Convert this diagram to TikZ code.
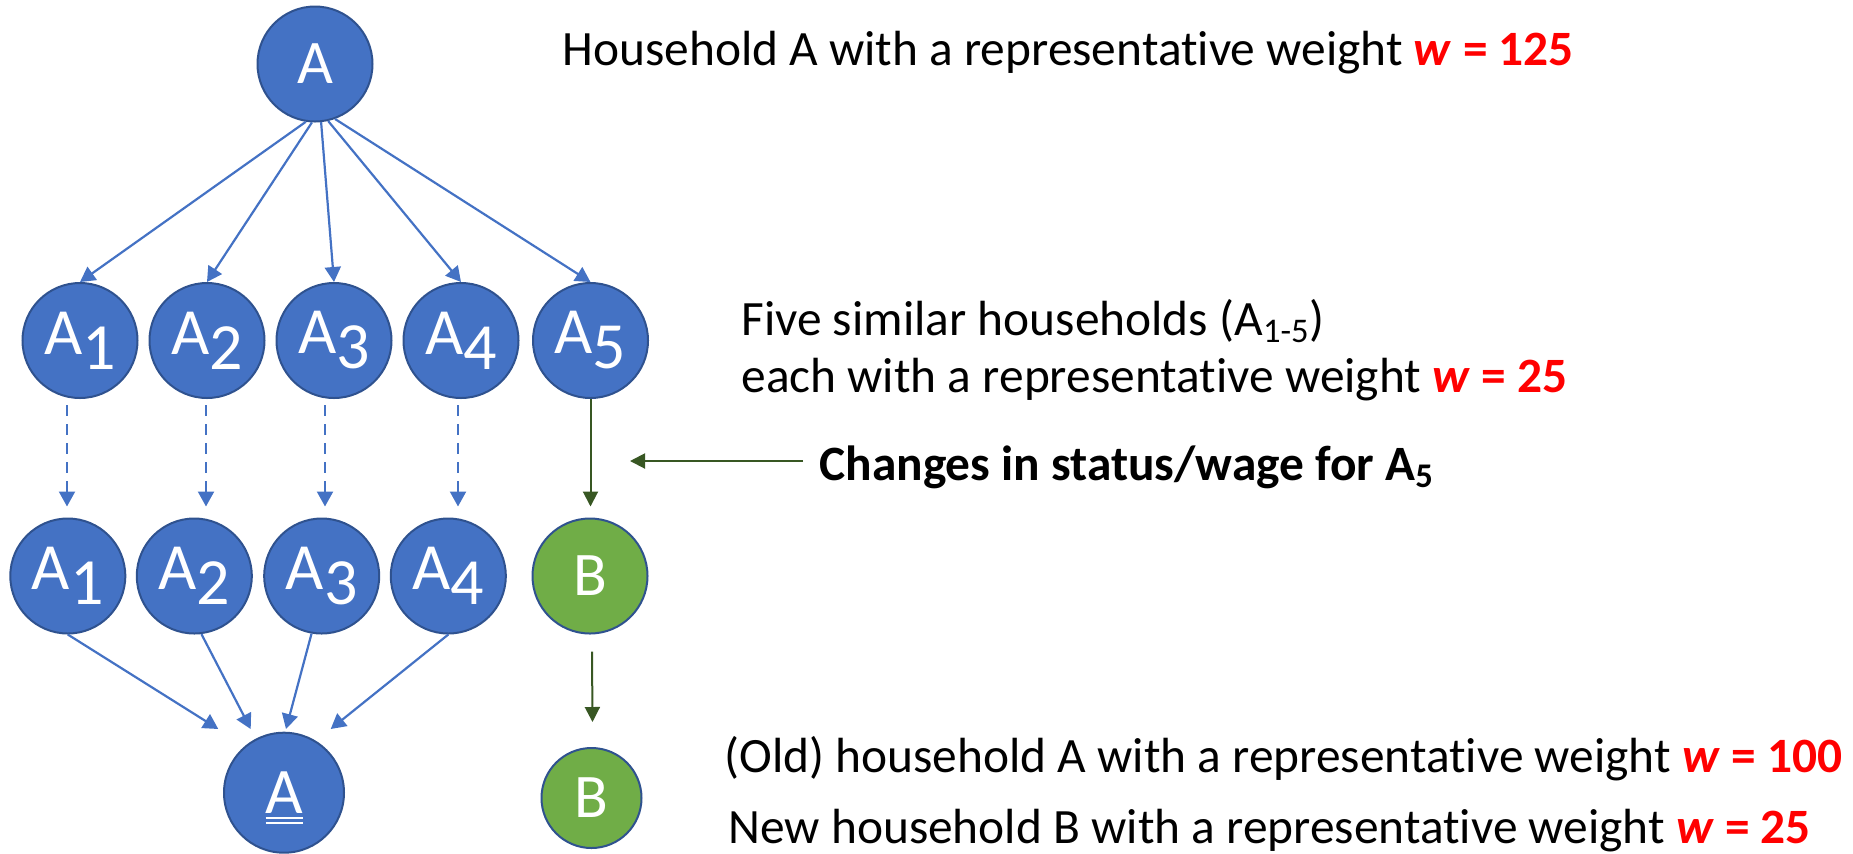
\documentclass[tikz,border=0pt]{standalone}
\usepackage{fontspec}
\setmainfont[Ligatures=NoCommon]{Carlito}
\usetikzlibrary{arrows.meta,calc}

\definecolor{hhblue}{HTML}{4472C4}
\definecolor{hhedge}{HTML}{2F528F}
\definecolor{hhgreen}{HTML}{70AD47}
\definecolor{hhdark}{HTML}{385723}
\definecolor{wred}{HTML}{FF0000}

% red weight after each caption
\newcommand{\wt}[1]{\textcolor{wred}{\textbf{\textit{w} = #1}}}
% full size index, set lower
\newcommand{\lowidx}[1]{\raisebox{-7.5pt}{#1}}

\tikzset{
    hh/.style={circle, draw=hhedge, line width=1pt, fill=hhblue, text=white,
        inner sep=0pt, minimum size=57.5pt, font=\fontsize{33}{33}\selectfont},
    hhnew/.style={hh, fill=hhgreen, font=\fontsize{31}{31}\selectfont},
    flow/.style={-{Triangle[length=7.5pt,width=8pt]}, draw=hhblue, line width=1.1pt},
    dflow/.style={flow, dash pattern=on 5.5pt off 4pt},
    gflow/.style={-{Triangle[length=7.5pt,width=7.5pt]}, draw=hhdark, line width=1pt},
    txt/.style={anchor=base west, inner sep=0pt, font=\fontsize{24.7}{29}\selectfont}
}

\begin{document}
\begin{tikzpicture}[x=0.5pt, y=-0.5pt]
    \useasboundingbox (0,0) rectangle (1853,853);

    % households
    \node [hh, font=\fontsize{31}{31}\selectfont] (A) at (315,64) {A};
    \foreach \i/\x in {1/80,2/207,3/334,4/461,5/590.5}
        \node [hh] (A\i) at (\x,340.5) {A\lowidx{\i}};
    \foreach \i/\x in {1/67.8,2/194.3,3/321.7,4/448.3}
        \node [hh] (S\i) at (\x,576) {A\lowidx{\i}};
    \node [hhnew] (B) at (590,576) {B};
    \node [hh, minimum size=60pt, font=\fontsize{32.5}{32.5}\selectfont] (Anew) at (284,792.7) {A};
    \node [hhnew, minimum size=50pt] (Bnew) at (591.5,798) {B};
    \foreach \dy in {25,30}
        \draw [white, line width=1.2pt] ($(Anew.center)+(-18.5,\dy)$) -- ++(37,0);

    % split, keep, merge
    \foreach \i/\a in {1/-99,2/-93,3/-84,4/-77,5/-70}
        \draw [flow] (A.\a) -- (A\i.north);
    \foreach \i/\dx in {1/-13,2/-1,3/-9,4/-3}
        \draw [dflow] ($(A\i.south)+(\dx,6)$) -- ($(A\i.south |- S\i.north)+(\dx,-11)$);
    \foreach \i/\a/\dx in {1/-90/-65.7,2/-83/-33.3,3/-100/2,4/-90/46.7}
        \draw [flow] (S\i.\a) -- ($(Anew.north)+(\dx,-2.7)$);

    % A5 becomes B
    \draw [gflow] (A5.south) -- ($(A5.south |- B.north)+(0,-11)$);
    \draw [gflow] ($(B.south)+(2,17)$) -- ($(Bnew.north)+(1,-25)$);

    % captions
    \node [txt] (hhA) at (562,65) {Household A with a representative weight \wt{125}};
    \node [txt] (five) at (741,335) {Five similar households (A\textsubscript{1-5})};
    \node [txt] (each) at (741,392) {each with a representative weight \wt{25}};
    \node [txt] (chg) at (819,480) {\textbf{Changes in status/wage for A\textsubscript{5}}};
    \coordinate (chgtip) at (630,461);
    \draw [gflow] ($(chg.base west)+(-16,-19)$) -- (chgtip);
    \node [txt] (old) at (724,772) {(Old) household A with a representative weight \wt{100}};
    \node [txt] (new) at (728,843) {New household B with a representative weight \wt{25}};
\end{tikzpicture}
\end{document}
